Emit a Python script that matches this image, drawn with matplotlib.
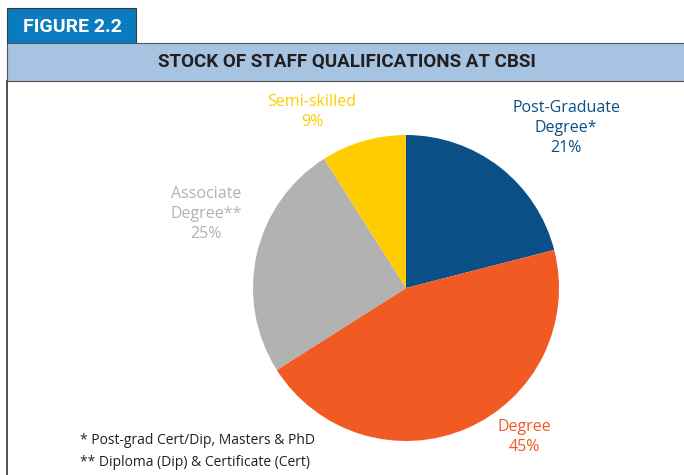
import matplotlib.pyplot as plt
from matplotlib.patches import Rectangle

# Dados
categorias = ['Post-Graduate\nDegree*', 'Degree', 'Associate\nDegree**', 'Semi-skilled']
percentuais = [21, 45, 25, 9]
cores = ['#0b4f87', '#f15a22', '#b2b2b2', '#fecc00']
notas = ['* Post-grad Cert/Dip, Masters & PhD', '** Diploma (Dip) & Certificate (Cert)']

W, H = 684, 475
fig = plt.figure(figsize=(6.84, 4.75), dpi=100)

def fx(x):
    return x / W

def fy(y):
    return 1 - y / H

# Moldura e faixas do cabecalho
fig.patches.append(Rectangle((fx(7), fy(43)), fx(136) - fx(7), fy(8) - fy(43),
                             transform=fig.transFigure, facecolor='#0a7bbf',
                             edgecolor='#3a3a3a', linewidth=0.8))
fig.patches.append(Rectangle((fx(7), fy(81)), 1.0, fy(43) - fy(81),
                             transform=fig.transFigure, facecolor='#a6c3e1',
                             edgecolor='#555555', linewidth=0.8))
fig.add_artist(plt.Line2D([fx(7), fx(7)], [0, fy(81)], transform=fig.transFigure,
                          color='#333333', linewidth=1.2))

fig.text(fx(23), fy(27), 'FIGURE 2.2', color='white', fontsize=14, fontweight='bold',
         family='Roboto', va='center', ha='left')
fig.text(fx(347), fy(62), 'STOCK OF STAFF QUALIFICATIONS AT CBSI', color='#231f20',
         fontsize=13.5, fontweight='bold', family='Roboto',
         va='center', ha='center')

# Pizza
cx, cy, r = 406, 288, 153
ax = fig.add_axes([fx(cx - r), fy(cy + r), 2 * r / W, 2 * r / H])
ax.pie(percentuais, colors=cores, startangle=90, counterclock=False,
       wedgeprops={'linewidth': 0})
ax.set_aspect('auto')
ax.set_xlim(-1, 1)
ax.set_ylim(-1, 1)
ax.axis('off')

# Rotulos
posicoes = [(566, 128), (524, 437), (206, 214), (312, 112)]
for cat, pct, cor, (x, y) in zip(categorias, percentuais, cores, posicoes):
    fig.text(fx(x), fy(y), f'{cat}\n{pct}%', color=cor, fontsize=11.5,
             family='Open Sans', ha='center', va='center', linespacing=1.3)

# Notas de rodape
fig.text(fx(80), fy(441), notas[0], fontsize=10, family='Open Sans', color='#231f20', va='center')
fig.text(fx(80), fy(462), notas[1], fontsize=10, family='Open Sans', color='#231f20', va='center')

plt.savefig('out.png', dpi=100)
